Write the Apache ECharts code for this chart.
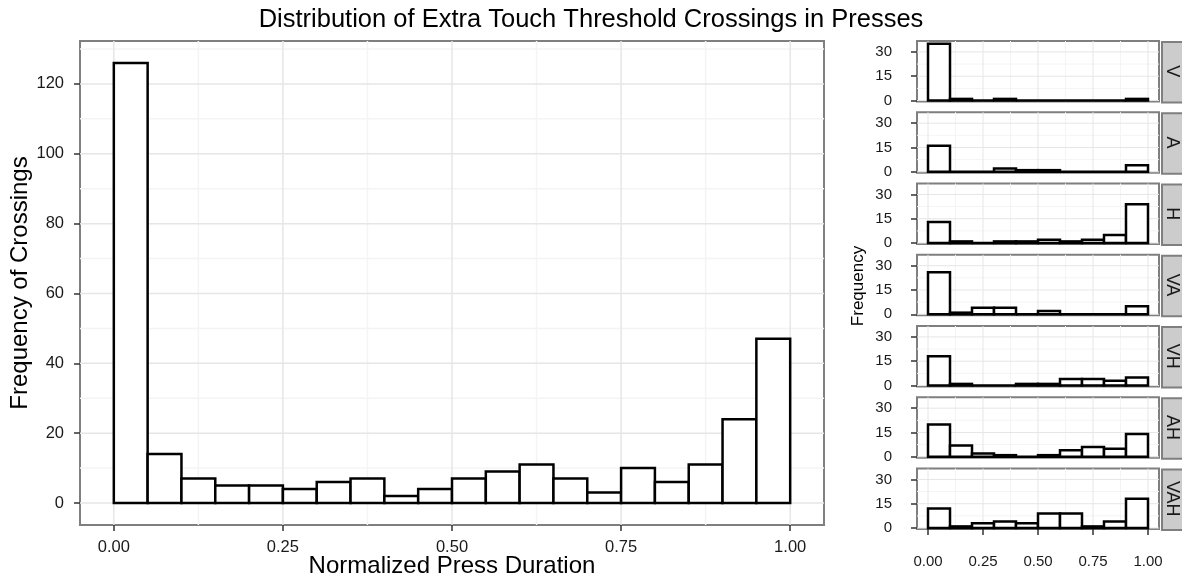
<!DOCTYPE html>
<html>
<head>
<meta charset="utf-8">
<script src="https://cdn.jsdelivr.net/npm/echarts@6/dist/echarts.min.js"></script>
<style>
  html, body { margin: 0; padding: 0; background: #ffffff; }
  #chart { width: 1182px; height: 579px; }
</style>
</head>
<body>
<div id="chart"></div>
<script>
// Histogram of all crossings: 20 bins of width 0.05 over [0, 1]
const mainBinWidth = 0.05;
const mainCounts = [126, 14, 7, 5, 5, 4, 6, 7, 2, 4, 7, 9, 11, 7, 3, 10, 6, 11, 24, 47];

// Per-condition histograms: 10 bins of width 0.1 over [0, 1]
const facetBinWidth = 0.1;
const facetNames = ['V', 'A', 'H', 'VA', 'VH', 'AH', 'VAH'];
const countsV   = [35, 1, 0, 1, 0, 0, 0, 0, 0, 1];
const countsA   = [16, 0, 0, 2, 1, 1, 0, 0, 0, 4];
const countsH   = [13, 1, 0, 1, 1, 2, 1, 2, 5, 24];
const countsVA  = [26, 1, 4, 4, 0, 2, 0, 0, 0, 5];
const countsVH  = [18, 1, 0, 0, 1, 1, 4, 4, 3, 5];
const countsAH  = [20, 7, 2, 1, 0, 1, 4, 6, 5, 14];
const countsVAH = [12, 1, 3, 4, 3, 9, 9, 1, 4, 18];
const facetCounts = [countsV, countsA, countsH, countsVA, countsVH, countsAH, countsVAH];

// Tick and grid positions
const xTicks = [0, 0.25, 0.5, 0.75, 1];
const xMinorGrid = [0.125, 0.375, 0.625, 0.875];
const mainYTicks = [0, 20, 40, 60, 80, 100, 120];
const mainYMinorGrid = [10, 30, 50, 70, 90, 110, 130];
const facetYTicks = [0, 15, 30];
const facetYMinorGrid = [7.5, 22.5];

const FONT = '"Liberation Sans", Arial, Helvetica, sans-serif';
const BORDER = '#7f7f7f';
const GRID_MAJOR = '#e6e6e6';
const GRID_MINOR = '#f4f4f4';
const TEXT = '#1a1a1a';

const chart = echarts.init(document.getElementById('chart'), null, { renderer: 'canvas' });

// Outlined histogram bars drawn from bin start and count
function barRenderer(binWidth, lw) {
  return function (params, api) {
    const x0 = api.value(0);
    const count = api.value(1);
    const base = api.coord([x0, 0]);
    const top = api.coord([x0 + binWidth, count]);
    return {
      type: 'rect',
      shape: { x: base[0], y: top[1], width: top[0] - base[0], height: base[1] - top[1] },
      style: { fill: '#ffffff', stroke: '#000000', lineWidth: lw }
    };
  };
}

// Panel grid lines (major and minor) drawn under the bars
function gridRenderer(xMaj, xMin, yMaj, yMin, lw) {
  return function (params, api) {
    const cs = params.coordSys;
    const children = [];
    const vline = (v, color, w) => {
      const x = api.coord([v, 0])[0];
      children.push({ type: 'line', shape: { x1: x, y1: cs.y, x2: x, y2: cs.y + cs.height },
        style: { stroke: color, lineWidth: w } });
    };
    const hline = (v, color, w) => {
      const y = api.coord([0, v])[1];
      children.push({ type: 'line', shape: { x1: cs.x, y1: y, x2: cs.x + cs.width, y2: y },
        style: { stroke: color, lineWidth: w } });
    };
    xMin.forEach(v => vline(v, GRID_MINOR, lw));
    yMin.forEach(v => hline(v, GRID_MINOR, lw));
    xMaj.forEach(v => vline(v, GRID_MAJOR, lw));
    yMaj.forEach(v => hline(v, GRID_MAJOR, lw));
    return { type: 'group', children };
  };
}

const grids = [];
const xAxes = [];
const yAxes = [];
const series = [];
const graphics = [];

// Main histogram panel
grids.push({ left: 80, top: 41, width: 744, height: 484, show: true, containLabel: false,
  outerBoundsMode: 'none', borderColor: BORDER, borderWidth: 2, backgroundColor: '#ffffff' });
xAxes.push({
  gridIndex: 0, type: 'value', min: -0.05, max: 1.05,
  name: 'Normalized Press Duration', nameLocation: 'middle', nameGap: 29, nameMoveOverlap: false,
  nameTextStyle: { fontFamily: FONT, fontSize: 24, color: '#000' },
  axisLine: { show: false, onZero: false },
  axisTick: { show: true, customValues: xTicks, length: 6, lineStyle: { color: '#333', width: 1.5 } },
  axisLabel: { customValues: xTicks, formatter: v => v.toFixed(2), margin: 14,
    fontFamily: FONT, fontSize: 16.5, color: TEXT },
  splitLine: { show: false }
});
yAxes.push({
  gridIndex: 0, type: 'value', min: -6.3, max: 132.3,
  name: 'Frequency of Crossings', nameLocation: 'middle', nameGap: 48, nameMoveOverlap: false,
  nameTextStyle: { fontFamily: FONT, fontSize: 24, color: '#000' },
  axisLine: { show: false, onZero: false },
  axisTick: { show: true, customValues: mainYTicks, length: 6, lineStyle: { color: '#333', width: 1.5 } },
  axisLabel: { customValues: mainYTicks, margin: 16, fontFamily: FONT, fontSize: 16.5, color: TEXT },
  splitLine: { show: false }
});
series.push({
  type: 'custom', xAxisIndex: 0, yAxisIndex: 0, z: 1, silent: true,
  renderItem: gridRenderer(xTicks, xMinorGrid, mainYTicks, mainYMinorGrid, 1.5),
  data: [[0, 0]]
});
series.push({
  type: 'custom', name: 'All', xAxisIndex: 0, yAxisIndex: 0, z: 3,
  renderItem: barRenderer(mainBinWidth, 2.5),
  data: mainCounts.map((c, i) => [i * mainBinWidth, c])
});

// Facet panels, one per condition, with a strip label on the right
const facetLeft = 917, facetWidth = 242, facetTop0 = 41, facetPitch = 71.25, facetHeight = 60.5;
const stripWidth = 24;
facetNames.forEach((name, i) => {
  const gi = i + 1;
  const top = facetTop0 + i * facetPitch;
  const last = i === facetNames.length - 1;
  grids.push({ left: facetLeft, top: top, width: facetWidth, height: facetHeight, show: true,
    containLabel: false, outerBoundsMode: 'none',
    borderColor: BORDER, borderWidth: 2, backgroundColor: '#ffffff' });
  xAxes.push({
    gridIndex: gi, type: 'value', min: -0.05, max: 1.05,
    axisLine: { show: false, onZero: false },
    axisTick: { show: last, customValues: xTicks, length: 6, lineStyle: { color: '#333', width: 1.5 } },
    axisLabel: { show: last, customValues: xTicks, formatter: v => v.toFixed(2), margin: 25,
      fontFamily: FONT, fontSize: 15, color: TEXT },
    splitLine: { show: false }
  });
  yAxes.push({
    gridIndex: gi, type: 'value', min: -0.6, max: 36.75,
    axisLine: { show: false, onZero: false },
    axisTick: { show: true, customValues: facetYTicks, length: 6, lineStyle: { color: '#333', width: 1.5 } },
    axisLabel: { customValues: facetYTicks, margin: 25, fontFamily: FONT, fontSize: 15, color: TEXT },
    splitLine: { show: false }
  });
  series.push({
    type: 'custom', xAxisIndex: gi, yAxisIndex: gi, z: 1, silent: true,
    renderItem: gridRenderer(xTicks, xMinorGrid, facetYTicks, facetYMinorGrid, 1),
    data: [[0, 0]]
  });
  series.push({
    type: 'custom', name: name, xAxisIndex: gi, yAxisIndex: gi, z: 3,
    renderItem: barRenderer(facetBinWidth, 2.5),
    data: facetCounts[i].map((c, j) => [j * facetBinWidth, c])
  });
  graphics.push({
    type: 'rect', left: facetLeft + facetWidth + 2, top: top,
    shape: { width: stripWidth, height: facetHeight },
    style: { fill: '#cccccc', stroke: BORDER, lineWidth: 2 }
  });
  graphics.push({
    type: 'text', x: 1172, y: top + facetHeight / 2,
    rotation: -Math.PI / 2,
    style: { text: name, fontFamily: FONT, fontSize: 18, fill: '#1a1a1a',
      align: 'center', verticalAlign: 'middle' }
  });
});

// Shared y title for the facet column
graphics.push({
  type: 'text', x: 858, y: 286, rotation: Math.PI / 2,
  style: { text: 'Frequency', fontFamily: FONT, fontSize: 17, fill: '#000',
    align: 'center', verticalAlign: 'middle' }
});

chart.setOption({
  backgroundColor: '#ffffff',
  animation: false,
  title: {
    text: 'Distribution of Extra Touch Threshold Crossings in Presses',
    left: 'center', top: 2,
    textStyle: { fontFamily: FONT, fontSize: 25.5, fontWeight: 'normal', color: '#000' }
  },
  grid: grids,
  xAxis: xAxes,
  yAxis: yAxes,
  series: series,
  graphic: graphics
});
</script>
</body>
</html>
